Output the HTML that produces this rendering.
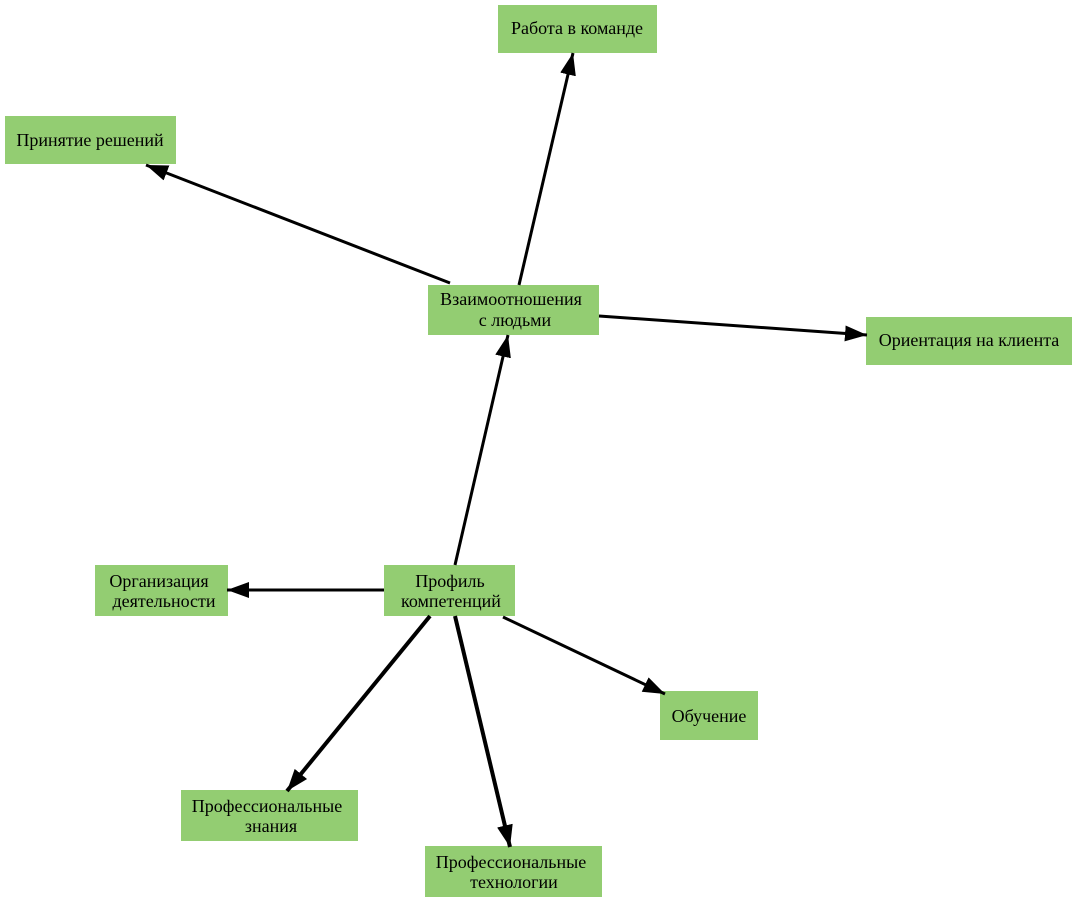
<!DOCTYPE html>
<html><head><meta charset="utf-8"><style>body{margin:0;background:#fff}svg{display:block}</style></head><body>
<svg width="1077" height="902" xmlns="http://www.w3.org/2000/svg" font-family="Liberation Serif, serif" font-size="18">
<defs><marker id="a" markerUnits="userSpaceOnUse" markerWidth="24" markerHeight="18" refX="22" refY="9" orient="auto"><path d="M0,1 L22,9 L0,17 z" fill="#000"/></marker></defs>
<g fill="#93cd72">
<rect x="498" y="5" width="159" height="48"/>
<rect x="5" y="116" width="171" height="48"/>
<rect x="428" y="285" width="171" height="50"/>
<rect x="866" y="317" width="206" height="48"/>
<rect x="384" y="565" width="131" height="51"/>
<rect x="95" y="565" width="133" height="51"/>
<rect x="660" y="691" width="98" height="49"/>
<rect x="181" y="790" width="177" height="51"/>
<rect x="425" y="846" width="177" height="51"/>
</g>
<g stroke="#000" stroke-width="3" marker-end="url(#a)">
<line x1="455" y1="565" x2="508" y2="335"/>
<line x1="519" y1="285" x2="573" y2="53"/>
<line x1="450" y1="283" x2="146" y2="165"/>
<line x1="599" y1="316" x2="867" y2="335"/>
<line x1="384" y1="590" x2="227" y2="590"/>
<line x1="503" y1="617" x2="665" y2="694"/>
<line x1="430" y1="616" x2="287" y2="791" stroke-width="4"/>
<line x1="455" y1="616" x2="510" y2="847" stroke-width="4"/>
</g>
<g text-anchor="middle" fill="#000">
<text x="577" y="34">Работа в команде</text>
<text x="90" y="146">Принятие решений</text>
<text x="511" y="305">Взаимоотношения</text><text x="515" y="326">с людьми</text>
<text x="969" y="346">Ориентация на клиента</text>
<text x="450" y="587">Профиль</text><text x="451" y="607">компетенций</text>
<text x="159" y="587">Организация</text><text x="164" y="607">деятельности</text>
<text x="709" y="722">Обучение</text>
<text x="267" y="812">Профессиональные</text><text x="271" y="832">знания</text>
<text x="511" y="868">Профессиональные</text><text x="514" y="888">технологии</text>
</g>
</svg>
</body></html>
